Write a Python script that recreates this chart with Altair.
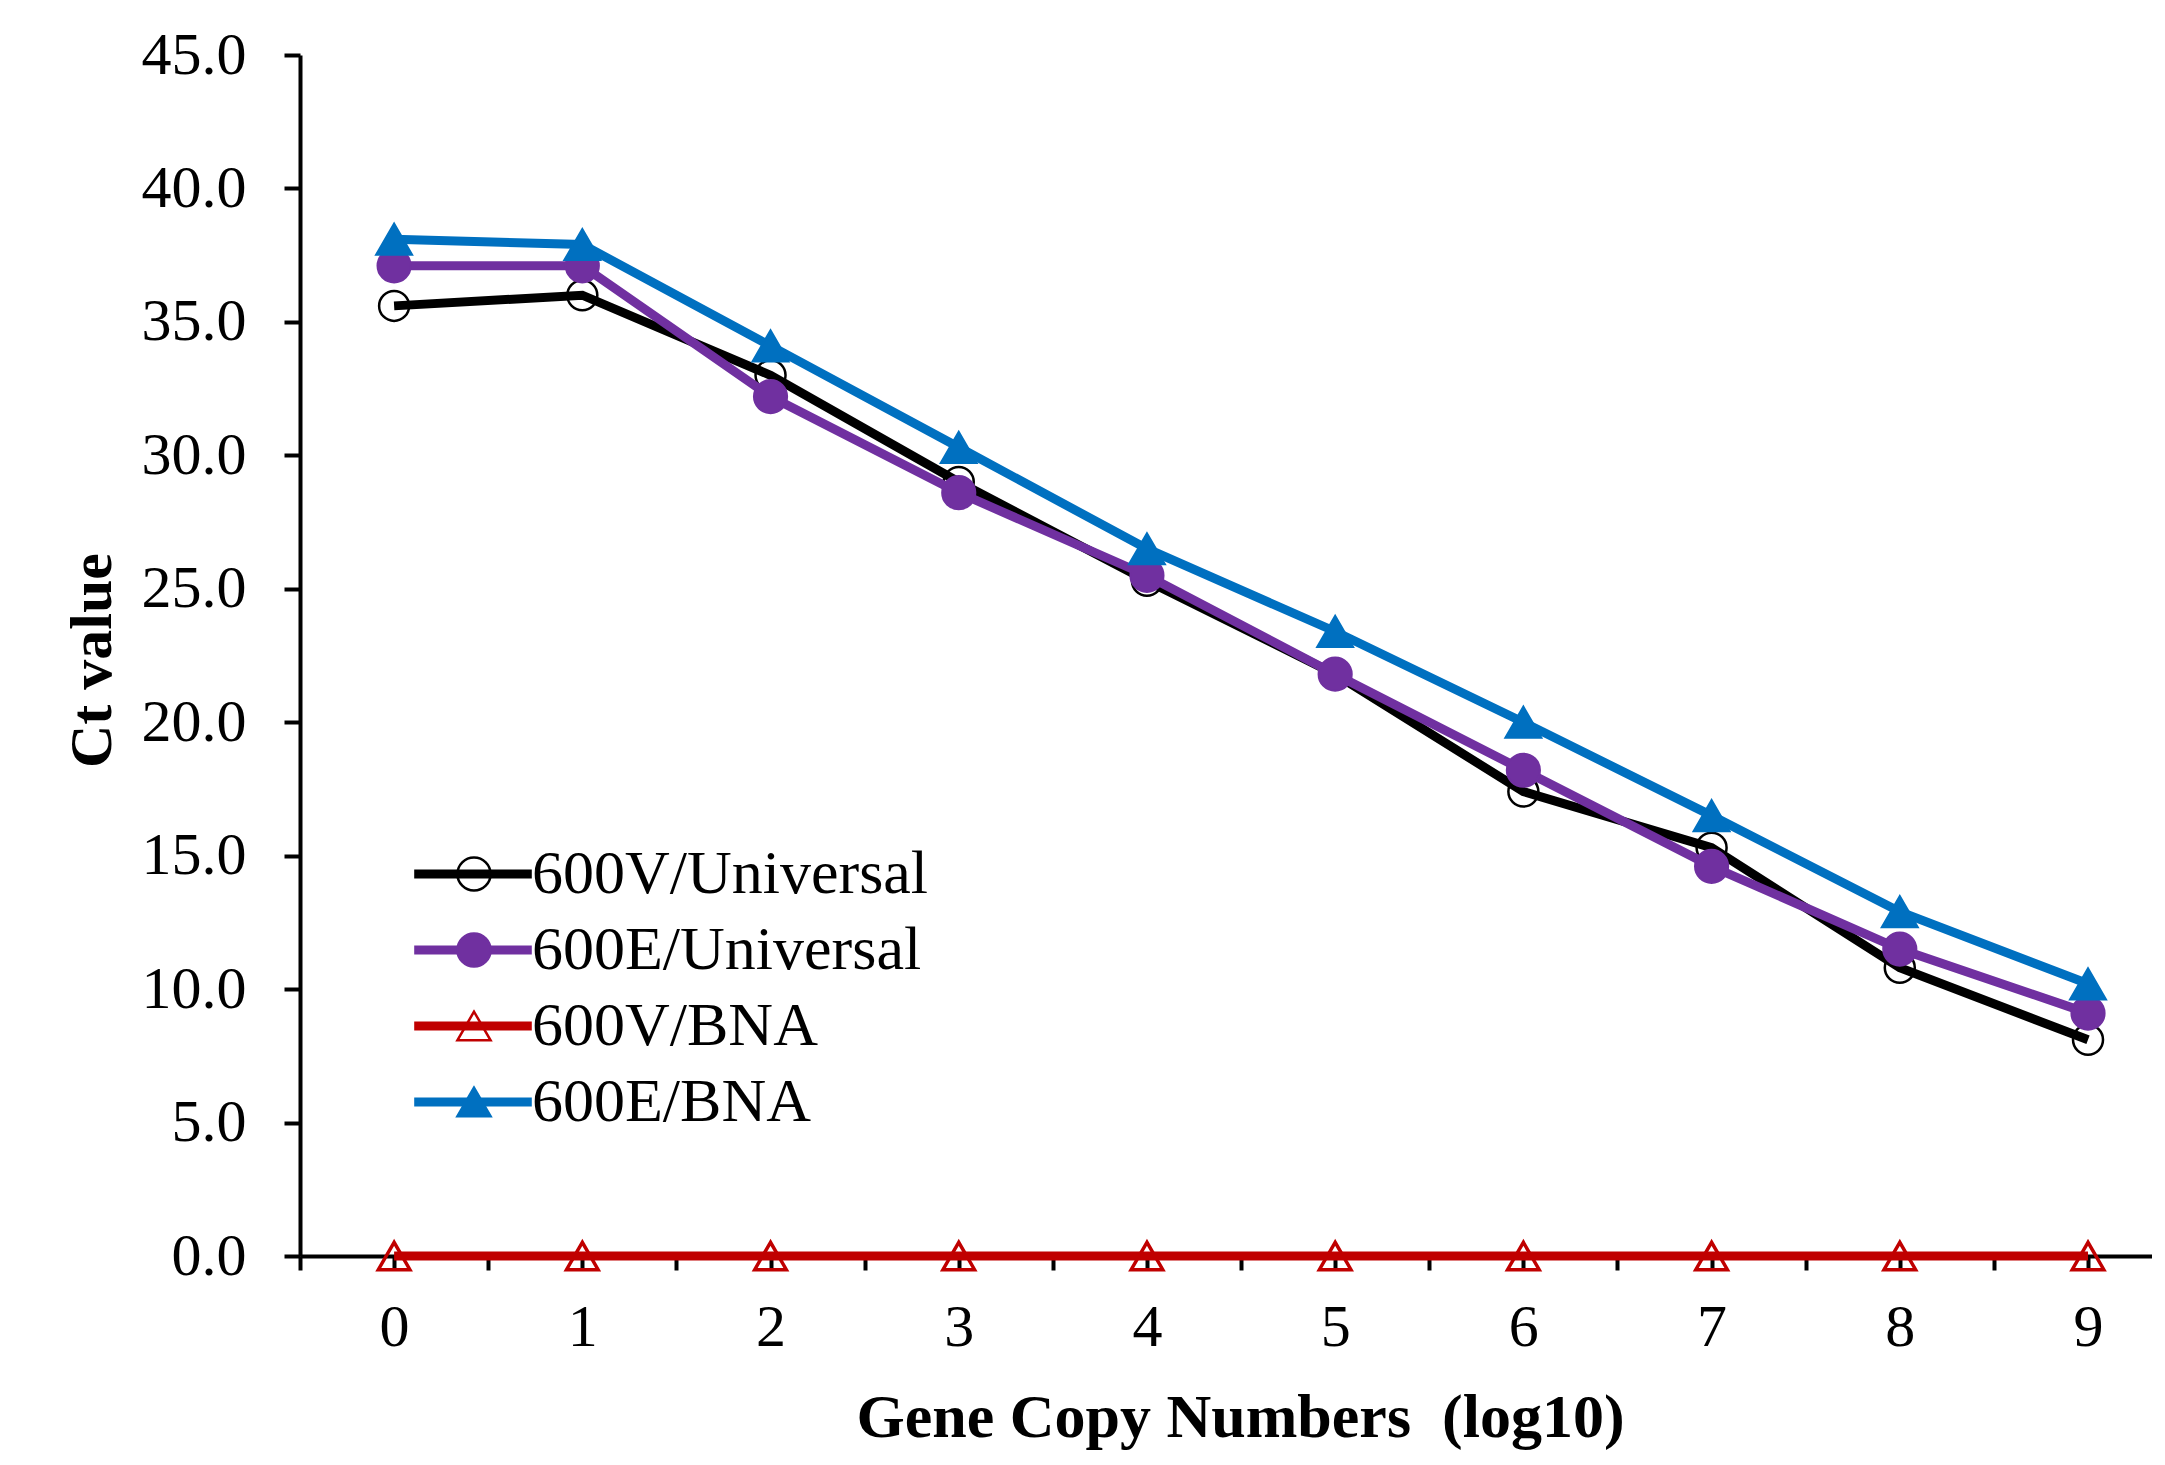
import altair as alt
import pandas as pd

# ---- data ----
x_vals = [0, 1, 2, 3, 4, 5, 6, 7, 8, 9]
series_names = ["600V/Universal", "600E/Universal", "600V/BNA", "600E/BNA"]
ct_600v_universal = [35.6, 36.0, 33.0, 29.0, 25.3, 21.8, 17.4, 15.3, 10.8, 8.1]
ct_600e_universal = [37.1, 37.1, 32.2, 28.6, 25.5, 21.8, 18.2, 14.6, 11.5, 9.1]
ct_600v_bna = [0.0, 0.0, 0.0, 0.0, 0.0, 0.0, 0.0, 0.0, 0.0, 0.0]
ct_600e_bna = [38.1, 37.9, 34.1, 30.3, 26.5, 23.4, 20.0, 16.5, 12.9, 10.2]
all_series = [ct_600v_universal, ct_600e_universal, ct_600v_bna, ct_600e_bna]

y_ticks = [0, 5, 10, 15, 20, 25, 30, 35, 40, 45]
x_ticks = [-0.5, 0, 0.5, 1, 1.5, 2, 2.5, 3, 3.5, 4, 4.5, 5, 5.5, 6, 6.5, 7, 7.5, 8, 8.5, 9]

# ---- styles ----
line_colors = ["#000000", "#7030A0", "#C00000", "#0070C0"]
marker_shapes = ["circle", "circle", "triangle-up", "triangle-up"]
marker_fills = ["transparent", "#7030A0", "transparent", "#0070C0"]
marker_sizes = [900, 1100, 1000, 1300]
marker_strokes = [2.5, 2, 3.5, 2]

# marker keys differ from series names so the two legends stay separate
marker_keys = [n + " m" for n in series_names]

rows = []
for name, mk, vals in zip(series_names, marker_keys, all_series):
    for xv, v in zip(x_vals, vals):
        rows.append({"series": name, "marker": mk, "x": xv, "ct": v})
df = pd.DataFrame(rows)

FONT = "Liberation Serif"
FS = 60

x_enc = alt.X(
    "x:Q",
    scale=alt.Scale(domain=[-0.5, 9.34], nice=False, zero=False),
    axis=alt.Axis(
        values=x_ticks,
        labelExpr="datum.value % 1 === 0 ? format(datum.value, 'd') : ''",
        tickSize=14, tickWidth=4, tickColor="black",
        domainWidth=4, domainColor="black",
        labelFont=FONT, labelFontSize=FS, labelColor="black", labelPadding=28,
        labelOverlap=False, labelFlush=False, grid=False,
        title="Gene Copy Numbers\u00a0\u00a0(log10)", titleFont=FONT, titleFontSize=62,
        titleFontWeight="bold", titleColor="black",
        titleX=940, titleY=180, titleBaseline="alphabetic",
    ),
)
y_enc = alt.Y(
    "ct:Q",
    scale=alt.Scale(domain=[0, 45], nice=False, zero=False),
    axis=alt.Axis(
        values=y_ticks, format=".1f",
        tickSize=16, tickWidth=4, tickColor="black",
        domainWidth=4, domainColor="black",
        labelFont=FONT, labelFontSize=FS, labelColor="black", labelPadding=38,
        labelOverlap=False, grid=False,
        title="Ct value", titleFont=FONT, titleFontSize=FS,
        titleFontWeight="bold", titleColor="black",
        titleAngle=270, titleX=-190, titleY=605, titleBaseline="alphabetic",
    ),
)

line_legend = alt.Legend(
    orient="none", legendX=142, legendY=788, title=None,
    symbolType="M-4.2,0L4.2,0", symbolSize=784, symbolStrokeWidth=9, symbolOpacity=1,
    labelFont=FONT, labelFontSize=62, labelColor="black", labelOffset=28, labelLimit=2000,
    rowPadding=14, padding=0,
)
point_legend = alt.Legend(
    orient="none", legendX=143, legendY=788, title=None,
    symbolSize=1100, symbolStrokeWidth=2.5, symbolOpacity=1,
    labelFont=FONT, labelFontSize=62, labelExpr="' '", labelOffset=4, labelLimit=2000,
    rowPadding=14, padding=0,
)

color_enc = alt.Color("series:N", scale=alt.Scale(domain=series_names, range=line_colors),
                      legend=line_legend)
shape_enc = alt.Shape("marker:N", scale=alt.Scale(domain=marker_keys, range=marker_shapes),
                      legend=point_legend)
fill_enc = alt.Fill("marker:N", scale=alt.Scale(domain=marker_keys, range=marker_fills),
                    legend=point_legend)
stroke_enc = alt.Stroke("marker:N", scale=alt.Scale(domain=marker_keys, range=line_colors),
                        legend=point_legend)

base = alt.Chart(df)
layers = []
for i, name in enumerate(series_names):
    sub = base.transform_filter(alt.datum.series == name)
    layers.append(sub.mark_line(strokeWidth=9).encode(x=x_enc, y=y_enc, color=color_enc))
    layers.append(
        sub.mark_point(size=marker_sizes[i], strokeWidth=marker_strokes[i], opacity=1, filled=False)
        .encode(x=x_enc, y=y_enc, shape=shape_enc, fill=fill_enc, stroke=stroke_enc)
    )

chart = (
    alt.layer(*layers)
    .properties(
        width=1852, height=1201,
        autosize=alt.AutoSizeParams(type="none"),
        padding={"left": 292, "top": 47, "right": 0, "bottom": 200},
        background="white",
    )
    .configure_view(strokeWidth=0)
)

chart.save("out.html", embed_options={"renderer": "svg", "actions": False})
